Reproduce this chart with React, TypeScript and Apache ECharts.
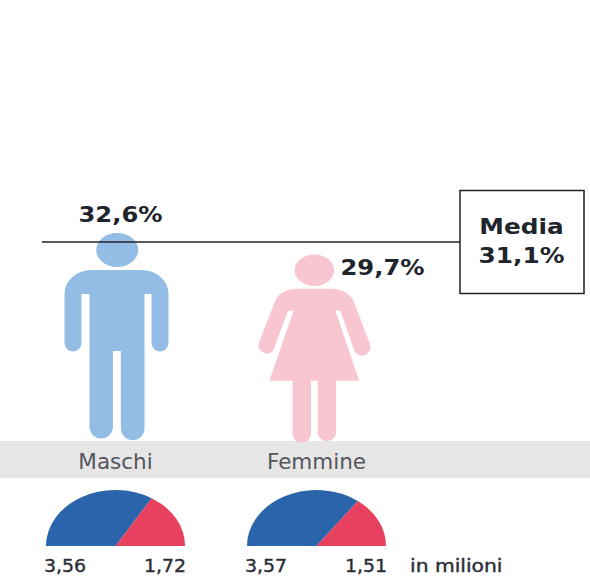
import React, { useEffect, useRef } from "react";
import * as echarts from "echarts";

const categories = ["Maschi", "Femmine"];
const rates = [32.6, 29.7];
const mediaRate = 31.1;
const blueMillions = [3.56, 3.57];
const redMillions = [1.72, 1.51];
const unitLabel = "in milioni";

const MALE_PATH =
  "path://M31.7 17A21 17 0 1 1 73.7 17A21 17 0 1 1 31.7 17ZM27 37H77A27 24 0 0 1 104 61V110A8.5 8.5 0 0 1 87 110V61H80V195.2A11.8 11.8 0 0 1 56.4 195.2V118H48.4V195.2A11.8 11.8 0 0 1 25 195.2V61H17V110A8.5 8.5 0 0 1 0 110V61A27 24 0 0 1 27 37Z";
const FEMALE_PATH =
  "path://M36.6 15.7A19.7 15.7 0 1 1 76 15.7A19.7 15.7 0 1 1 36.6 15.7ZM39 34.2H73C84 34.2 92 39 95.6 47.2L111.5 89A8.5 8.5 0 0 1 96 96L82.3 56.2H77.3L101 126.2H78V179A9.4 9.2 0 0 1 59.6 179V126.2H53V179A9.2 9.2 0 0 1 34.6 179V126.2H11.6L35.6 56.2H30L15.5 96A8.5 8.5 0 0 1 0.8 89L17 47.2C20.5 39 28 34.2 39 34.2Z";

const comma = (v: number, digits: number) => v.toFixed(digits).replace(".", ",");

const FONT = "'DejaVu Sans'";
const INK = "#20242c";
const GRID_TOP = 186;
const GRID_H = 254;

export default function App() {
  const ref = useRef<HTMLDivElement>(null);

  useEffect(() => {
    document.body.style.margin = "0";
    const chart = echarts.init(ref.current!, undefined, { renderer: "svg" });
    chart.setOption({
      animation: false,
      backgroundColor: "#ffffff",
      grid: [
        { left: 15, width: 402, top: GRID_TOP, height: GRID_H },
        { left: 42, width: 418, top: GRID_TOP - 1, height: GRID_H },
        { left: 15, width: 402, top: 490, height: 56 },
      ],
      xAxis: [
        {
          gridIndex: 0,
          type: "category",
          data: categories,
          axisLine: { show: false },
          axisTick: { show: false },
          axisLabel: {
            margin: 10,
            fontFamily: FONT,
            fontSize: 21.5,
            color: "#55555c",
            verticalAlign: "top",
          },
          z: 5,
        },
        { gridIndex: 1, type: "category", data: categories, show: false },
        { gridIndex: 2, type: "category", data: categories, show: false },
      ],
      yAxis: [
        { gridIndex: 0, type: "value", min: 0, max: 40, show: false },
        { gridIndex: 1, type: "value", min: 0, max: 40, show: false },
        { gridIndex: 2, type: "value", min: 0, max: 1, show: false },
      ],
      series: [
        {
          type: "pictorialBar",
          xAxisIndex: 0,
          yAxisIndex: 0,
          z: 3,
          data: [
            {
              value: rates[0],
              symbol: MALE_PATH,
              symbolSize: [104, "100%"],
              symbolOffset: [1, 0],
              itemStyle: { color: "#94BDE6" },
            },
            {
              value: rates[1],
              symbol: FEMALE_PATH,
              symbolSize: [112, "100%"],
              symbolOffset: [-2, 3],
              itemStyle: { color: "#F7C6D0" },
            },
          ],
        },
        {
          type: "custom",
          xAxisIndex: 0,
          yAxisIndex: 0,
          z: 6,
          data: categories.map((_, i) => [i, rates[i]]),
          encode: { x: 0, y: 1 },
          renderItem: (_: any, api: any) => {
            const i = api.value(0);
            const v = api.value(1);
            const [x, y] = api.coord([i, v]);
            const offset = i === 0 ? [5, -19] : [66, 16];
            return {
              type: "text",
              x: x + offset[0],
              y: y + offset[1],
              scaleX: 1.1,
              style: {
                text: comma(v, 1) + "%",
                textAlign: "center",
                textVerticalAlign: "middle",
                fontFamily: FONT,
                fontWeight: "bold",
                fontSize: 22,
                fill: INK,
              },
            };
          },
        },
        {
          type: "line",
          xAxisIndex: 1,
          yAxisIndex: 1,
          data: [],
          z: 4,
          markLine: {
            silent: true,
            symbol: "none",
            label: { show: false },
            lineStyle: { color: "#222222", width: 1.5, type: "solid" },
            data: [{ yAxis: mediaRate }],
          },
        },
        {
          type: "custom",
          xAxisIndex: 2,
          yAxisIndex: 2,
          z: 3,
          data: categories.map((_, i) => [i, blueMillions[i], redMillions[i]]),
          encode: { x: 0, y: 1 },
          renderItem: (_: any, api: any) => {
            const i = api.value(0);
            const a = api.value(1);
            const b = api.value(2);
            const [cx, cy] = api.coord([i, 0]);
            const ry = cy - api.coord([i, 1])[1];
            const rx = 69.5;
            const split = Math.PI + (Math.PI * a) / (a + b);
            const sector = (s: number, e: number, fill: string) => ({
              type: "sector",
              x: cx,
              y: cy,
              scaleY: ry / rx,
              shape: { cx: 0, cy: 0, r: rx, r0: 0, startAngle: s, endAngle: e, clockwise: true },
              style: { fill },
            });
            const text = (t: string, x: number, align: string) => ({
              type: "text",
              x,
              y: cy + 20,
              scaleX: 1.08,
              style: {
                text: t,
                textAlign: align,
                textVerticalAlign: "middle",
                fontFamily: FONT,
                fontSize: 17.5,
                fill: "#2a2d36",
                stroke: "#2a2d36",
                lineWidth: 0.4,
              },
            });
            return {
              type: "group",
              children: [
                sector(Math.PI, split, "#2A64AB"),
                sector(split, 2 * Math.PI, "#E8415F"),
                text(comma(a, 2), cx - rx - 2, "left"),
                text(comma(b, 2), cx + rx + 1, "right"),
              ],
            };
          },
        },
      ],
      graphic: [
        {
          type: "rect",
          z: -1,
          silent: true,
          shape: { x: 0, y: 441, width: 590, height: 37 },
          style: { fill: "#E6E6E6" },
        },
        {
          type: "rect",
          z: 10,
          shape: { x: 460, y: 190.5, width: 124, height: 103 },
          style: { fill: "#ffffff", stroke: "#222222", lineWidth: 1.5 },
        },
        {
          type: "text",
          z: 11,
          x: 521.5,
          y: 227,
          scaleX: 1.18,
          style: {
            text: "Media",
            textAlign: "center",
            textVerticalAlign: "middle",
            fontFamily: FONT,
            fontWeight: "bold",
            fontSize: 21,
            fill: INK,
          },
        },
        {
          type: "text",
          z: 11,
          x: 521.5,
          y: 256,
          scaleX: 1.18,
          style: {
            text: comma(mediaRate, 1) + "%",
            textAlign: "center",
            textVerticalAlign: "middle",
            fontFamily: FONT,
            fontWeight: "bold",
            fontSize: 21,
            fill: INK,
          },
        },
        {
          type: "text",
          z: 11,
          x: 410,
          y: 566,
          scaleX: 1.16,
          style: {
            text: unitLabel,
            textAlign: "left",
            textVerticalAlign: "middle",
            fontFamily: FONT,
            fontSize: 17.5,
            fill: "#2a2d36",
            stroke: "#2a2d36",
            lineWidth: 0.4,
          },
        },
      ],
    });
    return () => chart.dispose();
  }, []);

  return <div ref={ref} style={{ width: 590, height: 584 }} />;
}
